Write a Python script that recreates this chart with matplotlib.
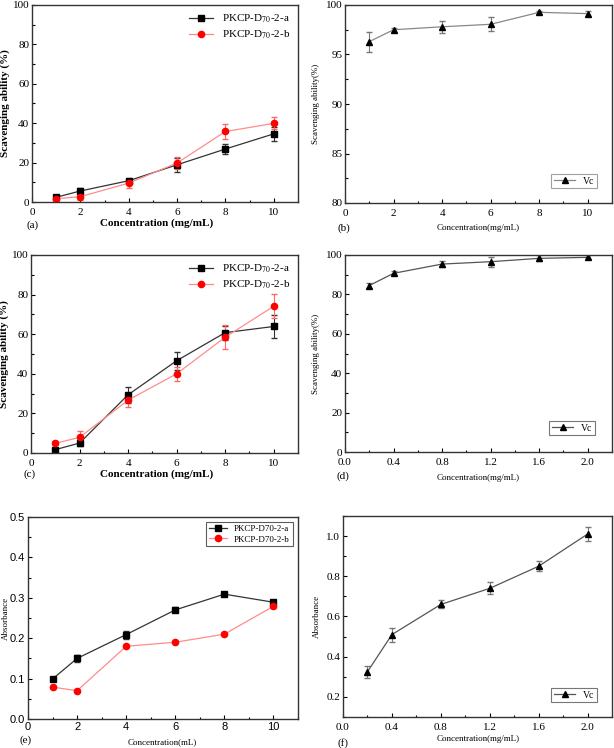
import matplotlib
matplotlib.use("Agg")
import matplotlib.pyplot as plt
from matplotlib.ticker import MultipleLocator, FormatStrFormatter

plt.rcParams['font.family'] = ['Liberation Serif', 'DejaVu Serif']
plt.rcParams['mathtext.fontset'] = 'stix'

# ---- data ----
x_conc = [1, 2, 4, 6, 8, 10]
x_vc = [0.2, 0.4, 0.8, 1.2, 1.6, 2.0]

a_a = [2.4, 5.6, 10.8, 18.9, 26.9, 34.6]
a_a_err = [1.0, 1.5, 1.0, 3.5, 2.5, 3.5]
a_b = [1.7, 2.7, 9.6, 19.8, 35.8, 39.9]
a_b_err = [1.5, 1.5, 2.5, 3.0, 4.0, 3.0]

b_vc = [96.3, 97.5, 97.8, 98.05, 99.26, 99.13]
b_vc_err = [1.0, 0.2, 0.6, 0.7, 0.15, 0.25]

c_a = [1.7, 5.0, 29.4, 46.6, 60.8, 63.9]
c_a_err = [1.0, 1.5, 4.0, 4.5, 3.5, 6.0]
c_b = [4.9, 7.9, 26.7, 40.0, 58.5, 74.1]
c_b_err = [1.0, 3.0, 3.5, 3.5, 6.0, 6.0]

d_vc = [84.5, 90.7, 95.4, 96.6, 98.3, 98.8]
d_vc_err = [1.5, 1.0, 1.5, 2.5, 1.5, 1.0]

e_a = [0.099, 0.150, 0.209, 0.270, 0.309, 0.289]
e_a_err = [0.005, 0.008, 0.010, 0.006, 0.004, 0.006]
e_b = [0.079, 0.070, 0.180, 0.190, 0.210, 0.279]
e_b_err = [0.003, 0.003, 0.003, 0.003, 0.003, 0.004]

f_vc = [0.325, 0.51, 0.66, 0.74, 0.85, 1.01]
f_vc_err = [0.03, 0.035, 0.02, 0.03, 0.025, 0.035]

lab_a = 'PKCP-D$_{70}$-2-a'
lab_b = 'PKCP-D$_{70}$-2-b'

W, H = 614, 748
fig = plt.figure(figsize=(W / 100, H / 100), dpi=100)


def ax_px(l, t, r, b):
    return fig.add_axes([l / W, 1 - b / H, (r - l) / W, (b - t) / H])


def style(ax, xmaj, xmin, ymaj, ymin, fs=8, family=None, xpad=4):
    ax.xaxis.set_major_locator(MultipleLocator(xmaj))
    ax.xaxis.set_minor_locator(MultipleLocator(xmin))
    ax.yaxis.set_major_locator(MultipleLocator(ymaj))
    ax.yaxis.set_minor_locator(MultipleLocator(ymin))
    ax.tick_params(which='both', direction='in', top=False, right=False, labelsize=fs)
    ax.tick_params(axis='x', pad=xpad)
    ax.tick_params(axis='y', pad=2)
    ax.tick_params(which='major', length=3, width=0.8)
    ax.tick_params(which='minor', length=1.8, width=0.8)
    for s in ax.spines.values():
        s.set_linewidth(1.0)
        s.set_color('#333333')
    if family:
        for t in ax.get_xticklabels() + ax.get_yticklabels():
            t.set_family(family)


def two_series(ax, ya, ya_err, yb, yb_err):
    c1 = ax.errorbar(x_conc, ya, yerr=ya_err, color='#333333', lw=0.9, marker='s', ms=4.5,
                     mfc='black', mec='black', capsize=2, elinewidth=0.8, ecolor='#333333')
    c2 = ax.errorbar(x_conc, yb, yerr=yb_err, color='#ff8c8c', lw=0.9, marker='o', ms=4.5,
                     mfc='red', mec='red', capsize=2, elinewidth=0.8, ecolor='#ff6666')
    return c1[0], c2[0]


def vc_series(ax, x, y, err, lc='#555555'):
    c = ax.errorbar(x, y, yerr=err, color=lc, lw=0.9, marker='^', ms=5,
                    mfc='black', mec='black', capsize=2, elinewidth=0.8, ecolor='#777777')
    return c[0]


# (a)
ax = ax_px(32, 5, 298, 202)
h1, h2 = two_series(ax, a_a, a_a_err, a_b, a_b_err)
ax.set_xlim(0, 11); ax.set_ylim(0, 100)
style(ax, 2, 1, 20, 10)
ax.set_ylabel('Scavenging ability (%)', fontsize=8, fontweight='bold', labelpad=2)
ax.legend([h1, h2], [lab_a, lab_b], loc='upper right', frameon=False, fontsize=8,
          handlelength=2.2, borderaxespad=0.3, labelspacing=0.3)
fig.text(157 / W, 1 - 223 / H, 'Concentration (mg/mL)', ha='center', va='center', fontsize=8, fontweight='bold')
fig.text(33 / W, 1 - 225 / H, '(a)', ha='center', va='center', fontsize=8)

# (b)
ax = ax_px(345, 5, 612, 203)
h = vc_series(ax, x_conc, b_vc, b_vc_err, lc='#888888')
ax.set_xlim(0, 11); ax.set_ylim(80, 100)
style(ax, 2, 1, 5, 2.5)
ax.set_ylabel('Scavenging ability(%)', fontsize=6.5, labelpad=4)
lg = ax.legend([h], ['Vc'], loc='lower right', fontsize=7, fancybox=False, handlelength=2.2,
               borderaxespad=1.5, borderpad=0.3)
lg.get_frame().set_edgecolor('#888888'); lg.get_frame().set_linewidth(0.8)
fig.text(478 / W, 1 - 228 / H, 'Concentration(mg/mL)', ha='center', va='center', fontsize=6.5)
fig.text(344 / W, 1 - 228 / H, '(b)', ha='center', va='center', fontsize=8)

# (c)
ax = ax_px(31, 255, 298, 453)
h1, h2 = two_series(ax, c_a, c_a_err, c_b, c_b_err)
ax.set_xlim(0, 11); ax.set_ylim(0, 100)
style(ax, 2, 1, 20, 10)
ax.set_ylabel('Scavenging ability (%)', fontsize=8, fontweight='bold', labelpad=2)
ax.legend([h1, h2], [lab_a, lab_b], loc='upper right', frameon=False, fontsize=8,
          handlelength=2.2, borderaxespad=0.3, labelspacing=0.3)
fig.text(157 / W, 1 - 474 / H, 'Concentration (mg/mL)', ha='center', va='center', fontsize=8, fontweight='bold')
fig.text(30 / W, 1 - 474 / H, '(c)', ha='center', va='center', fontsize=8)

# (d)
ax = ax_px(345, 255, 612, 452)
h = vc_series(ax, x_vc, d_vc, d_vc_err)
ax.set_xlim(0, 2.2); ax.set_ylim(0, 100)
style(ax, 0.4, 0.2, 20, 10)
ax.xaxis.set_major_formatter(FormatStrFormatter('%.1f'))
ax.set_ylabel('Scavenging ability(%)', fontsize=6.5, labelpad=4)
lg = ax.legend([h], ['Vc'], loc='lower right', fontsize=7, fancybox=False, handlelength=2.2,
               borderaxespad=1.7, borderpad=0.3)
lg.get_frame().set_edgecolor('#555555'); lg.get_frame().set_linewidth(0.8)
fig.text(478 / W, 1 - 478 / H, 'Concentration(mg/mL)', ha='center', va='center', fontsize=6.5)
fig.text(343 / W, 1 - 476 / H, '(d)', ha='center', va='center', fontsize=8)

# (e)
ax = ax_px(28, 517, 298, 719)
c1 = ax.errorbar(x_conc, e_a, yerr=e_a_err, color='#333333', lw=0.9, marker='s', ms=4.5,
                 mfc='black', mec='black', capsize=2, elinewidth=0.8)
c2 = ax.errorbar(x_conc, e_b, yerr=e_b_err, color='#ff8c8c', lw=0.9, marker='o', ms=4.5,
                 mfc='red', mec='red', capsize=2, elinewidth=0.8, ecolor='#ff6666')
ax.set_xlim(0, 11); ax.set_ylim(0, 0.5)
style(ax, 2, 1, 0.1, 0.05, family=['Liberation Sans', 'DejaVu Sans'], xpad=2)
ax.yaxis.set_major_formatter(FormatStrFormatter('%.1f'))
fig.text(6 / W, 1 - 618 / H, 'Absorbance', rotation=90, ha='center', va='center', fontsize=6.5)
lg = ax.legend([c1[0], c2[0]], ['PKCP-D70-2-a', 'PKCP-D70-2-b'], loc='upper right', fontsize=6.5,
               fancybox=False, handlelength=2.0, borderaxespad=0.6, borderpad=0.3, labelspacing=0.2)
lg.get_frame().set_edgecolor('#333333'); lg.get_frame().set_linewidth(0.8)
fig.text(162 / W, 1 - 742 / H, 'Concentration(mL)', ha='center', va='center', fontsize=6.5)
fig.text(26 / W, 1 - 740 / H, '(e)', ha='center', va='center', fontsize=8)

# (f)
ax = ax_px(343, 516, 612, 717)
h = vc_series(ax, x_vc, f_vc, f_vc_err)
ax.set_xlim(0, 2.2); ax.set_ylim(0.1, 1.1)
style(ax, 0.4, 0.2, 0.2, 0.1)
ax.xaxis.set_major_formatter(FormatStrFormatter('%.1f'))
ax.yaxis.set_major_formatter(FormatStrFormatter('%.1f'))
ax.set_ylabel('Absorbance', fontsize=6.5, labelpad=4)
lg = ax.legend([h], ['Vc'], loc='lower right', fontsize=7, fancybox=False, handlelength=2.2,
               borderaxespad=1.5, borderpad=0.3)
lg.get_frame().set_edgecolor('#555555'); lg.get_frame().set_linewidth(0.8)
fig.text(478 / W, 1 - 739 / H, 'Concentration(mg/mL)', ha='center', va='center', fontsize=6.5)
fig.text(343 / W, 1 - 743 / H, '(f)', ha='center', va='center', fontsize=8)

fig.savefig('out.png', dpi=100)
